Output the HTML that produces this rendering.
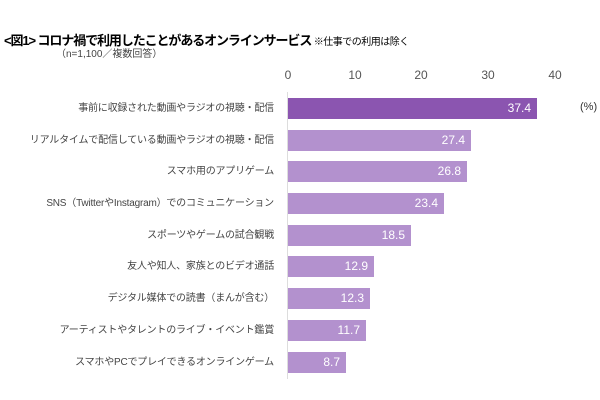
<!DOCTYPE html><html><head><meta charset="utf-8"><style>
body{margin:0;background:#fff;width:600px;height:400px;position:relative;overflow:hidden;font-family:"Liberation Sans","Noto Sans CJK JP",sans-serif;}
.a{position:absolute;white-space:nowrap}
.lab{position:absolute;right:326px;font-size:10px;letter-spacing:-0.2px;color:#444;line-height:21px;white-space:nowrap}
.bar{position:absolute;left:288px;height:21px;background:#b391ce;color:#fff;font-size:12px;text-align:right;line-height:21px;box-sizing:border-box;padding-right:6px}
.t{position:absolute;top:68px;font-size:12px;color:#555;transform:translateX(-50%)}
</style></head><body>
<div class="a" style="left:4px;top:30px;font-size:13px;font-weight:bold;color:#000;letter-spacing:-1.1px">&lt;図1&gt; コロナ禍で利用したことがあるオンラインサービス <span style="font-size:10px;font-weight:normal;letter-spacing:-0.5px">※仕事での利用は除く</span></div>
<div class="a" style="left:56px;top:45px;font-size:10px;color:#444">（n=1,100／複数回答）</div>
<div class="t" style="left:288px">0</div><div class="t" style="left:355px">10</div><div class="t" style="left:421px">20</div><div class="t" style="left:488px">30</div><div class="t" style="left:555px">40</div>
<div class="a" style="left:287px;top:92px;width:1px;height:287px;background:#ddd"></div>
<div class="a" style="left:580px;top:101px;font-size:11px;color:#333">(%)</div>
<div class="lab" style="top:98px">事前に収録された動画やラジオの視聴・配信</div><div class="bar" style="top:98px;width:249px;background:#8b55b0">37.4</div>
<div class="lab" style="top:130px">リアルタイムで配信している動画やラジオの視聴・配信</div><div class="bar" style="top:130px;width:183px">27.4</div>
<div class="lab" style="top:161px">スマホ用のアプリゲーム</div><div class="bar" style="top:161px;width:179px">26.8</div>
<div class="lab" style="top:193px">SNS（TwitterやInstagram）でのコミュニケーション</div><div class="bar" style="top:193px;width:156px">23.4</div>
<div class="lab" style="top:225px">スポーツやゲームの試合観戦</div><div class="bar" style="top:225px;width:123px">18.5</div>
<div class="lab" style="top:256px">友人や知人、家族とのビデオ通話</div><div class="bar" style="top:256px;width:86px">12.9</div>
<div class="lab" style="top:288px">デジタル媒体での読書（まんが含む）</div><div class="bar" style="top:288px;width:82px">12.3</div>
<div class="lab" style="top:320px">アーティストやタレントのライブ・イベント鑑賞</div><div class="bar" style="top:320px;width:78px">11.7</div>
<div class="lab" style="top:352px">スマホやPCでプレイできるオンラインゲーム</div><div class="bar" style="top:352px;width:58px">8.7</div>
</body></html>
